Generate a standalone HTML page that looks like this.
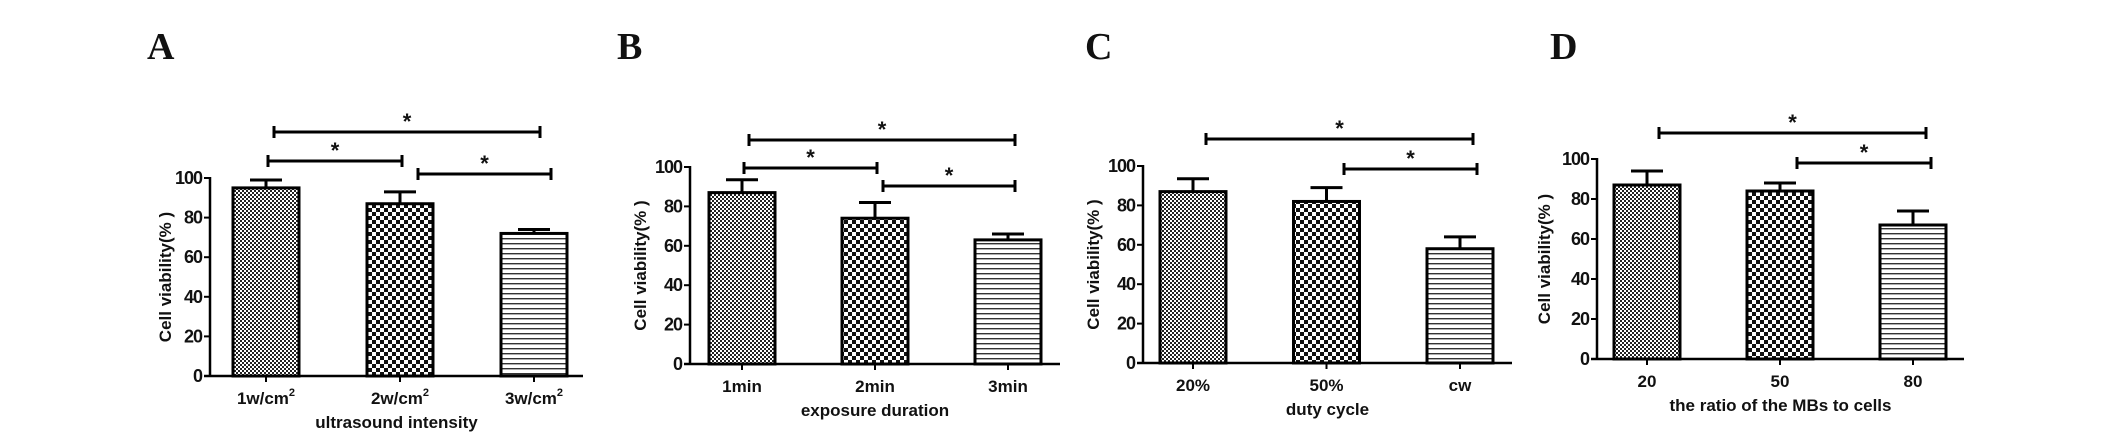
<!DOCTYPE html>
<html><head><meta charset="utf-8"><style>
html,body{margin:0;padding:0;background:#fff;width:2126px;height:447px;overflow:hidden}
svg text{font-family:"Liberation Sans",Arial,sans-serif;font-weight:bold;fill:#111}
.lt{font-family:"Liberation Serif","Times New Roman",serif;font-size:38px;font-weight:bold}
</style></head><body>
<svg id="fig" width="2126" height="447" viewBox="0 0 2126 447" xmlns="http://www.w3.org/2000/svg">
<defs>
<pattern id="pFine" width="4" height="4" patternUnits="userSpaceOnUse"><rect width="4" height="4" fill="#fff"/><rect width="2" height="2" fill="#222"/><rect x="2" y="2" width="2" height="2" fill="#222"/></pattern>
<pattern id="pCoarse" width="8" height="8" patternUnits="userSpaceOnUse"><rect width="8" height="8" fill="#fff"/><rect width="4" height="4" fill="#111"/><rect x="4" y="4" width="4" height="4" fill="#111"/></pattern>
<pattern id="pStripe" width="6" height="5" patternUnits="userSpaceOnUse"><rect width="6" height="5" fill="#fff"/><rect y="3" width="6" height="1.4" fill="#333"/></pattern>
</defs>
</svg>
<script>
// Panel A
const catsA = ["1w/cm","2w/cm","3w/cm"];
const valsA = [95, 87, 72];
const errA = [4, 6, 2];
// Panel B
const catsB = ["1min","2min","3min"];
const valsB = [87, 74, 63];
const errB = [6.5, 8, 3];
// Panel C
const catsC = ["20%","50%","cw"];
const valsC = [87, 82, 58];
const errC = [6.5, 7, 6];
// Panel D
const catsD = ["20","50","80"];
const valsD = [87, 84, 67];
const errD = [7, 4, 7];
const yTicks = [0, 20, 40, 60, 80, 100];

const NS = "http://www.w3.org/2000/svg";
const svg = document.getElementById('fig');
function mk(tag, attrs, parent){const e=document.createElementNS(NS,tag);for(const k in attrs)e.setAttribute(k,attrs[k]);(parent||svg).appendChild(e);return e;}
const fills=["url(#pFine)","url(#pCoarse)","url(#pStripe)"];

const panels=[
 {id:'a',letter:'A',lx:147,ax:210,y0:376,y100:178,xend:583,c0:266,step:134,cats:catsA,vals:valsA,err:errA,sup:true,xl:'ultrasound intensity',ylx:165,
  br:[[274,540,132],[268,402,161],[418,551,174]]},
 {id:'b',letter:'B',lx:617,ax:690,y0:364,y100:167,xend:1060,c0:742,step:133,cats:catsB,vals:valsB,err:errB,xl:'exposure duration',ylx:640,
  br:[[749,1015,140],[744,877,168],[883,1015,186]]},
 {id:'c',letter:'C',lx:1085,ax:1143,y0:363,y100:166,xend:1512,c0:1193,step:133.5,cats:catsC,vals:valsC,err:errC,xl:'duty cycle',ylx:1093,
  br:[[1206,1473,139],[1344,1477,169]]},
 {id:'d',letter:'D',lx:1550,ax:1597,y0:359,y100:159,xend:1964,c0:1647,step:133,cats:catsD,vals:valsD,err:errD,xl:'the ratio of the MBs to cells',ylx:1544,
  br:[[1659,1926,133],[1797,1931,163]]}
];
panels.forEach(p=>{
  const g=mk('g',{});
  
  
  const Y=v=>p.y0-(p.y0-p.y100)*v/100;
  const X=i=>p.c0+i*p.step;
  const L=mk('text',{x:p.lx,y:59,class:'lt'},g);L.textContent=p.letter;
  
  
  p.vals.forEach((v,i)=>{
    const cx=X(i), e=p.err[i];
    const el=mk('line',{x1:cx,x2:cx,y1:Y(v),y2:Y(v+e),stroke:'#000','stroke-width':3},g);
    
    
    const cap=mk('line',{x1:cx-16,x2:cx+16,y1:Y(v+e),y2:Y(v+e),stroke:'#000','stroke-width':3},g);
    
    
    const r=mk('rect',{x:cx-33,y:Y(v),width:66,height:p.y0-Y(v),fill:fills[i],stroke:'#000','stroke-width':3},g);
    
    
    mk('line',{x1:cx,x2:cx,y1:p.y0,y2:p.y0+6,stroke:'#000','stroke-width':2},g);
    const tx=mk('text',{x:cx,y:p.y0+28,'text-anchor':'middle','font-size':17},g);
    tx.textContent=p.cats[i];
    if(p.sup){const s=mk('tspan',{dy:-8,'font-size':11},tx);s.textContent='2';}
    
    
  });
  const ya=mk('line',{x1:p.ax,x2:p.ax,y1:p.y100-1,y2:p.y0,stroke:'#000','stroke-width':2.5},g);
  
  
  const xa=mk('line',{x1:p.ax-6,x2:p.xend,y1:p.y0,y2:p.y0,stroke:'#000','stroke-width':2.5},g);
  
  
  yTicks.forEach(v=>{
    mk('line',{x1:p.ax-6,x2:p.ax,y1:Y(v),y2:Y(v),stroke:'#000','stroke-width':2},g);
    const t=mk('text',{x:p.ax-8,y:Y(v)+6,'text-anchor':'end','font-size':18,'letter-spacing':'-1'},g);
    t.textContent=v;
    
    
  });
  const xl=mk('text',{x:(p.ax+p.xend)/2,y:p.y0+52,'text-anchor':'middle','font-size':17},g);
  xl.textContent=p.xl;
  
  
  const yc=(p.y0+p.y100)/2;
  const yl=mk('text',{x:p.ylx,y:yc,'text-anchor':'middle','font-size':17,transform:`rotate(-90 ${p.ylx} ${yc})`,dy:6},g);
  yl.textContent='Cell viability(% )';
  
  
  p.br.forEach((b,k)=>{
    const [x1,x2,y]=b;
    const bg=mk('g',{},g);
    
    
    mk('line',{x1:x1,x2:x2,y1:y,y2:y,stroke:'#000','stroke-width':3},bg);
    mk('line',{x1:x1,x2:x1,y1:y-6,y2:y+6,stroke:'#000','stroke-width':3},bg);
    mk('line',{x1:x2,x2:x2,y1:y-6,y2:y+6,stroke:'#000','stroke-width':3},bg);
    const s=mk('text',{x:(x1+x2)/2,y:y-3,'text-anchor':'middle','font-size':22},bg);
    s.textContent='*';
  });
});
</script>
</body></html>
